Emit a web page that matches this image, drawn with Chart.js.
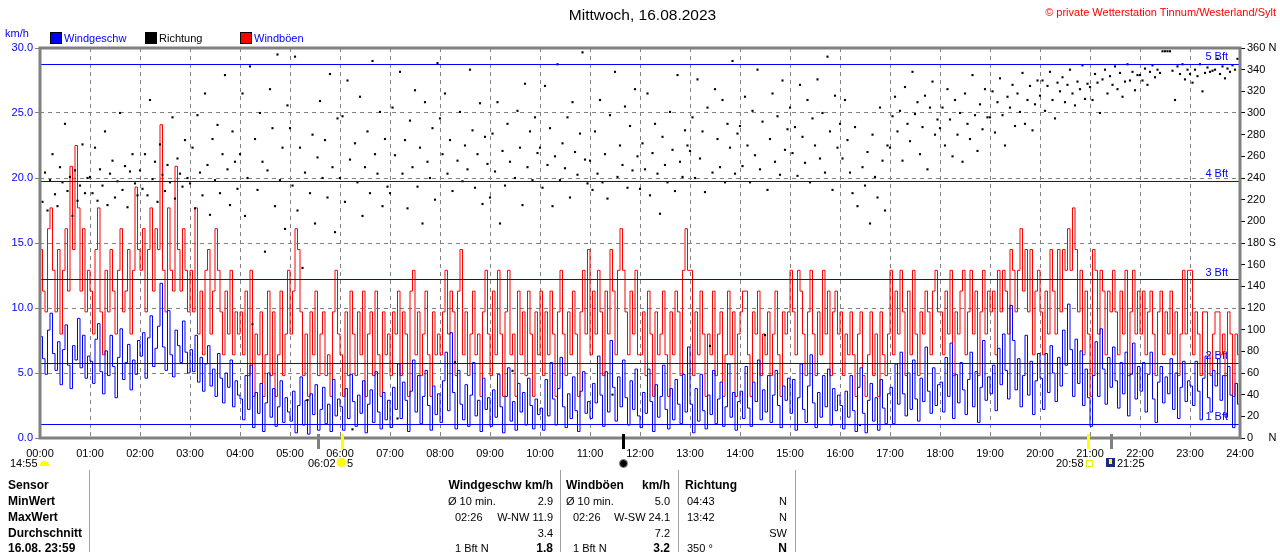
<!DOCTYPE html>
<html>
<head>
<meta charset="utf-8">
<title>Wind 16.08.2023</title>
<script src="https://cdn.jsdelivr.net/npm/chart.js@4.4.0/dist/chart.umd.min.js"></script>
<style>
	body { margin: 0; background: #fff; font-family: 'Liberation Sans', Arial, sans-serif; }
	#wrap { position: relative; width: 1280px; height: 552px; overflow: hidden; }
	#wind-chart { position: absolute; left: 0; top: 0; }
	.t { position: absolute; font-size: 11px; line-height: 14px; white-space: nowrap; }
	.b { font-weight: bold; font-size: 12px; }
	.sq { position: absolute; width: 10px; height: 10px; border: 1px solid #000; }
	.vl { position: absolute; width: 1px; top: 470px; height: 82px; background: #a0a0a0; }
</style>
</head>
<body>
<div id="wrap">
	<canvas id="wind-chart" width="1280" height="552"></canvas>

	<!-- header -->
	<div class="t" style="left:0;width:1285px;text-align:center;top:6px;font-size:15.5px;line-height:18px;">Mittwoch, 16.08.2023</div>
	<div class="t" style="right:4px;top:5px;color:#f00;">© private Wetterstation Tinnum/Westerland/Sylt</div>
	<div class="t" style="left:5px;top:26px;color:#00f;">km/h</div>
	<div class="sq" style="left:50px;top:32px;background:#00f;"></div>
	<div class="t" style="left:64px;top:31px;color:#00f;">Windgeschw</div>
	<div class="sq" style="left:145px;top:32px;background:#000;"></div>
	<div class="t" style="left:159px;top:31px;">Richtung</div>
	<div class="sq" style="left:240px;top:32px;background:#f00;"></div>
	<div class="t" style="left:254px;top:31px;color:#00f;">Windböen</div>

	<!-- sun / moon row -->
	<div class="t" style="left:10px;top:456px;">14:55</div>
	<div style="position:absolute;left:40px;top:461px;width:9px;height:5px;background:#ff0;border-radius:5px 5px 0 0;"></div>
	<div class="t" style="left:308px;top:456px;">06:02</div>
	<div style="position:absolute;left:338px;top:459px;width:7px;height:7px;background:#ff0;border-radius:50%;box-shadow:0 0 2px 1px #ee0;"></div>
	<div class="t" style="left:347px;top:456px;">5</div>
	<div style="position:absolute;left:619px;top:459px;width:7px;height:7px;background:#000;border:1px solid #888;border-radius:50%;"></div>
	<div class="t" style="left:1056px;top:456px;">20:58</div>
	<div style="position:absolute;left:1086px;top:460px;width:5px;height:5px;border:1px solid #ee0;"></div>
	<div style="position:absolute;left:1106px;top:458px;width:9px;height:9px;background:#1a2a80;"></div>
	<div style="position:absolute;left:1109px;top:459px;width:3px;height:5px;background:#ff0;"></div>
	<div class="t" style="left:1117px;top:456px;">21:25</div>

	<!-- table -->
	<div class="vl" style="left:89px;"></div>
	<div class="vl" style="left:560px;"></div>
	<div class="vl" style="left:678px;"></div>
	<div class="vl" style="left:795px;"></div>

	<div class="t b" style="left:8px;top:478px;">Sensor</div>
	<div class="t b" style="left:8px;top:494px;">MinWert</div>
	<div class="t b" style="left:8px;top:510px;">MaxWert</div>
	<div class="t b" style="left:8px;top:526px;">Durchschnitt</div>
	<div class="t b" style="left:8px;top:541px;">16.08. 23:59</div>

	<div class="t b" style="right:727px;top:478px;">Windgeschw km/h</div>
	<div class="t" style="left:448px;top:494px;">Ø 10 min.</div>
	<div class="t" style="right:727px;top:494px;">2.9</div>
	<div class="t" style="left:455px;top:510px;">02:26</div>
	<div class="t" style="right:727px;top:510px;">W-NW 11.9</div>
	<div class="t" style="right:727px;top:526px;">3.4</div>
	<div class="t" style="left:455px;top:541px;">1 Bft N</div>
	<div class="t b" style="right:727px;top:541px;">1.8</div>

	<div class="t b" style="left:566px;top:478px;">Windböen</div>
	<div class="t b" style="right:610px;top:478px;">km/h</div>
	<div class="t" style="left:566px;top:494px;">Ø 10 min.</div>
	<div class="t" style="right:610px;top:494px;">5.0</div>
	<div class="t" style="left:573px;top:510px;">02:26</div>
	<div class="t" style="right:610px;top:510px;">W-SW 24.1</div>
	<div class="t" style="right:610px;top:526px;">7.2</div>
	<div class="t" style="left:573px;top:541px;">1 Bft N</div>
	<div class="t b" style="right:610px;top:541px;">3.2</div>

	<div class="t b" style="left:685px;top:478px;">Richtung</div>
	<div class="t" style="left:687px;top:494px;">04:43</div>
	<div class="t" style="right:493px;top:494px;">N</div>
	<div class="t" style="left:687px;top:510px;">13:42</div>
	<div class="t" style="right:493px;top:510px;">N</div>
	<div class="t" style="right:493px;top:526px;">SW</div>
	<div class="t" style="left:687px;top:541px;">350 °</div>
	<div class="t b" style="right:493px;top:541px;">N</div>
</div>

<script>
// Samples every 3 minutes, 00:00 .. 24:00 (one row per hour)
const sampleMinutes = 3;

// Windgeschwindigkeit km/h
const windSpeed = [
	7.8, 6.1, 4.9, 8.3, 9.6, 6.5, 5.2, 7.4, 4.1, 6.8, 8.7, 5.6, 3.8, 7.1, 6.0, 9.2, 5.4, 7.9, 4.6, 6.3,
	5.9, 4.2, 7.6, 8.8, 5.1, 3.4, 6.7, 4.8, 7.9, 5.5, 3.1, 6.2, 8.4, 4.5, 5.8, 7.2, 3.7, 6.0, 4.9, 7.5,
	6.3, 8.1, 4.6, 7.7, 9.4, 5.5, 6.9, 8.6, 11.9, 7.0, 5.2, 9.8, 6.4, 4.7, 8.3, 7.1, 5.8, 9.0, 6.6, 5.0,
	6.8, 5.1, 7.9, 4.3, 6.2, 3.6, 5.7, 7.1, 4.0, 5.3, 3.2, 6.5, 4.6, 2.7, 5.0, 3.9, 6.0, 2.4, 4.4, 3.3,
	3.0, 1.4, 4.8, 2.2, 5.6, 0.8, 3.5, 1.9, 4.2, 0.5, 2.7, 5.0, 1.6, 3.8, 0.9, 2.4, 4.4, 1.2, 3.1, 2.0,
	1.3, 3.6, 0.4, 2.5, 4.7, 1.0, 2.9, 0.3, 3.4, 1.8, 4.1, 0.6, 2.2, 3.9, 1.1, 2.6, 0.5, 4.5, 1.7, 3.0,
	2.4, 0.6, 3.8, 1.5, 4.9, 2.8, 0.9, 3.3, 1.9, 4.4, 0.4, 2.6, 3.7, 1.2, 5.1, 2.0, 0.7, 3.5, 1.4, 2.9,
	0.8, 3.9, 2.2, 5.7, 1.5, 4.3, 2.9, 0.5, 3.6, 6.0, 2.0, 4.8, 1.1, 3.2, 5.2, 2.5, 0.6, 4.0, 1.8, 3.4,
	1.2, 4.4, 6.6, 2.1, 8.1, 3.5, 0.7, 5.2, 2.6, 1.4, 4.1, 0.9, 3.3, 5.8, 1.7, 2.9, 0.5, 4.6, 2.2, 3.1,
	0.9, 3.7, 1.6, 4.9, 2.4, 0.4, 3.2, 5.4, 1.3, 2.8, 0.6, 4.2, 2.0, 3.5, 1.0, 4.6, 2.5, 0.7, 3.0, 1.8,
	2.3, 0.6, 4.5, 1.7, 5.8, 3.0, 1.0, 3.8, 6.2, 2.4, 0.8, 3.4, 1.5, 4.7, 2.1, 0.5, 3.6, 5.1, 1.9, 2.8,
	1.5, 4.2, 2.7, 6.3, 3.3, 0.9, 5.1, 2.0, 7.5, 3.9, 1.3, 4.7, 2.4, 6.0, 3.1, 1.0, 4.4, 2.2, 5.3, 1.7,
	0.8, 3.5, 1.9, 5.3, 2.8, 0.5, 4.1, 1.6, 3.2, 5.6, 2.2, 0.7, 3.8, 1.4, 4.5, 2.6, 1.1, 4.9, 2.0, 7.0,
	2.6, 0.4, 3.8, 1.3, 4.9, 2.1, 0.7, 3.3, 1.8, 5.2, 1.1, 3.0, 4.3, 0.9, 2.4, 5.7, 1.6, 3.5, 0.6, 2.8,
	3.6, 1.5, 5.5, 2.3, 0.9, 4.3, 2.8, 6.0, 1.4, 3.7, 2.0, 4.8, 1.2, 3.3, 5.2, 2.5, 0.8, 4.0, 2.9, 4.6,
	1.9, 4.5, 0.6, 3.1, 5.7, 2.2, 1.2, 4.0, 6.4, 2.7, 0.8, 3.5, 1.6, 4.8, 2.4, 5.3, 1.0, 3.8, 2.1, 3.3,
	2.5, 0.7, 3.6, 1.6, 4.8, 2.1, 0.5, 3.9, 5.4, 1.9, 0.4, 2.9, 4.2, 1.3, 3.1, 0.6, 4.5, 2.3, 1.1, 3.4,
	3.9, 1.1, 5.7, 2.6, 6.6, 3.4, 1.7, 5.0, 2.2, 6.0, 3.0, 1.3, 4.6, 2.8, 7.0, 3.6, 1.9, 5.4, 2.5, 4.1,
	4.3, 2.0, 6.2, 3.2, 7.3, 1.5, 4.9, 2.7, 5.8, 3.7, 1.8, 4.5, 6.6, 2.4, 5.1, 1.2, 3.9, 7.5, 2.9, 4.7,
	3.4, 5.6, 2.1, 6.9, 4.1, 8.0, 5.2, 3.0, 10.2, 7.5, 3.7, 6.1, 2.4, 4.8, 7.9, 3.3, 5.9, 1.8, 4.4, 6.5,
	4.6, 2.2, 6.5, 3.5, 7.1, 5.0, 2.8, 6.2, 4.0, 8.3, 5.6, 10.3, 6.8, 3.2, 7.6, 4.2, 6.7, 2.5, 5.3, 3.1,
	0.9, 4.8, 7.4, 3.2, 8.4, 5.3, 2.6, 6.2, 3.9, 7.0, 4.4, 2.3, 5.8, 3.4, 6.6, 1.7, 4.9, 7.3, 3.0, 5.5,
	3.6, 5.8, 2.0, 4.9, 6.6, 3.0, 1.2, 4.3, 5.5, 2.7, 4.7, 3.4, 6.1, 2.2, 5.0, 1.5, 3.9, 5.9, 2.8, 4.4,
	4.0, 2.5, 5.9, 3.6, 1.4, 4.6, 6.3, 3.1, 2.0, 5.2, 4.0, 6.1, 2.9, 4.8, 1.6, 5.5, 3.3, 0.8, 4.2, 2.6,
	1.8,
];

// Windböen km/h
const windGusts = [
	14.5, 11.3, 9.7, 16.1, 17.7, 12.9, 9.7, 14.5, 8.0, 12.9, 16.1, 11.3, 20.9, 14.5, 22.5, 17.7, 11.3, 16.1, 9.7, 12.9,
	11.3, 8.0, 14.5, 17.7, 9.7, 6.4, 12.9, 9.7, 14.5, 11.3, 8.0, 12.9, 16.1, 9.7, 11.3, 14.5, 8.0, 12.9, 19.3, 14.5,
	12.9, 16.1, 9.7, 14.5, 17.7, 11.3, 16.1, 14.5, 24.1, 12.9, 9.7, 17.7, 12.9, 11.3, 20.9, 14.5, 11.3, 16.1, 12.9, 9.7,
	12.9, 9.7, 17.7, 8.0, 11.3, 6.4, 12.9, 14.5, 8.0, 11.3, 16.1, 12.9, 9.7, 6.4, 11.3, 8.0, 12.9, 6.4, 9.7, 8.0,
	9.7, 6.4, 11.3, 4.8, 12.9, 3.2, 8.0, 6.4, 9.7, 3.2, 6.4, 11.3, 4.8, 9.7, 3.2, 6.4, 11.3, 4.8, 8.0, 12.9,
	8.0, 11.3, 16.1, 14.5, 9.7, 4.8, 8.0, 3.2, 9.7, 6.4, 11.3, 4.8, 8.0, 9.7, 4.8, 6.4, 3.2, 9.7, 12.9, 8.0,
	6.4, 3.2, 9.7, 4.8, 11.3, 8.0, 4.8, 9.7, 6.4, 11.3, 3.2, 8.0, 9.7, 4.8, 11.3, 6.4, 3.2, 9.7, 6.4, 8.0,
	4.8, 9.7, 8.0, 11.3, 4.8, 9.7, 8.0, 3.2, 11.3, 12.9, 6.4, 9.7, 4.8, 8.0, 11.3, 6.4, 3.2, 9.7, 6.4, 8.0,
	6.4, 9.7, 12.9, 8.0, 11.3, 9.7, 4.8, 11.3, 14.5, 6.4, 9.7, 4.8, 8.0, 11.3, 6.4, 8.0, 3.2, 9.7, 12.9, 8.0,
	4.8, 11.3, 6.4, 12.9, 8.0, 3.2, 9.7, 12.9, 6.4, 8.0, 3.2, 11.3, 6.4, 9.7, 4.8, 11.3, 8.0, 3.2, 9.7, 6.4,
	11.3, 4.8, 9.7, 6.4, 11.3, 8.0, 3.2, 9.7, 12.9, 8.0, 4.8, 9.7, 6.4, 11.3, 8.0, 3.2, 9.7, 12.9, 8.0, 14.5,
	6.4, 11.3, 8.0, 12.9, 9.7, 4.8, 11.3, 8.0, 14.5, 11.3, 6.4, 12.9, 16.1, 12.9, 9.7, 6.4, 11.3, 8.0, 12.9, 6.4,
	6.4, 9.7, 4.8, 11.3, 8.0, 3.2, 9.7, 6.4, 8.0, 11.3, 6.4, 3.2, 9.7, 6.4, 11.3, 9.7, 4.8, 12.9, 16.1, 12.9,
	12.9, 4.8, 9.7, 6.4, 11.3, 8.0, 3.2, 8.0, 6.4, 11.3, 4.8, 8.0, 9.7, 3.2, 6.4, 11.3, 6.4, 9.7, 3.2, 8.0,
	9.7, 11.3, 11.3, 6.4, 3.2, 9.7, 8.0, 11.3, 4.8, 8.0, 6.4, 9.7, 4.8, 8.0, 11.3, 6.4, 3.2, 9.7, 8.0, 9.7,
	12.9, 9.7, 6.4, 12.9, 11.3, 8.0, 4.8, 9.7, 12.9, 8.0, 4.8, 9.7, 6.4, 12.9, 8.0, 11.3, 4.8, 9.7, 11.3, 8.0,
	9.7, 4.8, 8.0, 6.4, 9.7, 6.4, 3.2, 8.0, 9.7, 4.8, 3.2, 6.4, 9.7, 4.8, 8.0, 3.2, 9.7, 6.4, 4.8, 8.0,
	12.9, 6.4, 11.3, 8.0, 12.9, 9.7, 4.8, 11.3, 6.4, 12.9, 8.0, 4.8, 9.7, 8.0, 11.3, 9.7, 6.4, 11.3, 12.9, 9.7,
	9.7, 6.4, 11.3, 8.0, 12.9, 4.8, 9.7, 8.0, 11.3, 12.9, 6.4, 9.7, 12.9, 8.0, 11.3, 4.8, 9.7, 12.9, 8.0, 11.3,
	9.7, 11.3, 6.4, 12.9, 9.7, 12.9, 11.3, 8.0, 14.5, 12.9, 9.7, 12.9, 16.1, 11.3, 14.5, 9.7, 14.5, 6.4, 11.3, 12.9,
	9.7, 6.4, 11.3, 8.0, 14.5, 11.3, 8.0, 14.5, 9.7, 14.5, 12.9, 16.1, 12.9, 17.7, 14.5, 9.7, 12.9, 6.4, 11.3, 8.0,
	3.2, 14.5, 12.9, 8.0, 12.9, 11.3, 6.4, 11.3, 9.7, 12.9, 9.7, 6.4, 11.3, 8.0, 12.9, 4.8, 9.7, 12.9, 8.0, 11.3,
	8.0, 11.3, 6.4, 9.7, 11.3, 8.0, 4.8, 9.7, 11.3, 6.4, 9.7, 8.0, 11.3, 6.4, 9.7, 4.8, 8.0, 12.9, 8.0, 12.9,
	12.9, 6.4, 9.7, 8.0, 4.8, 9.7, 9.7, 6.4, 4.8, 8.0, 9.7, 9.7, 6.4, 8.0, 4.8, 9.7, 8.0, 3.2, 8.0, 6.4,
	3.2,
];

// Windrichtung Grad
const windDir = [
	232, 218, 245, 210, 238, 262, 225, 214, 250, 236, 290, 228, 241, 205, 247, 219, 233, 271, 226, 240,
	241, 226, 268, 219, 248, 233, 283, 215, 244, 256, 222, 237, 300, 229, 251, 213, 246, 262, 235, 224,
	247, 230, 262, 224, 312, 239, 255, 218, 271, 243, 228, 252, 236, 296, 221, 258, 244, 232, 275, 240,
	235, 268, 212, 298, 245, 224, 318, 252, 206, 276, 238, 289, 226, 262, 335, 248, 215, 283, 255, 230,
	262, 318, 205, 240, 343, 105, 276, 229, 300, 255, 172, 247, 322, 286, 214, 354, 238, 268, 193, 307,
	286, 233, 352, 210, 268, 157, 245, 35, 226, 280, 198, 259, 311, 240, 275, 222, 336, 250, 190, 295,
	240, 297, 218, 330, 257, 8, 272, 236, 315, 205, 250, 283, 226, 348, 262, 244, 301, 214, 276, 232,
	226, 305, 261, 18, 338, 244, 275, 212, 293, 250, 321, 232, 268, 198, 310, 255, 240, 286, 220, 346,
	295, 262, 318, 244, 275, 228, 70, 256, 301, 237, 270, 248, 340, 284, 231, 262, 309, 216, 278, 253,
	222, 281, 246, 310, 198, 265, 233, 290, 255, 62, 240, 302, 268, 215, 327, 250, 283, 238, 296, 263,
	268, 231, 325, 252, 286, 214, 260, 345, 238, 272, 249, 296, 222, 310, 264, 243, 281, 356, 257, 235,
	256, 229, 283, 244, 312, 236, 262, 221, 298, 40, 338, 241, 270, 252, 306, 231, 288, 247, 322, 260,
	230, 272, 248, 318, 224, 263, 290, 244, 207, 278, 252, 236, 301, 266, 228, 335, 255, 241, 284, 270,
	265, 296, 240, 331, 258, 283, 227, 305, 85, 245, 322, 276, 250, 312, 236, 290, 268, 348, 244, 281,
	288, 251, 315, 270, 236, 302, 261, 340, 248, 292, 95, 229, 276, 318, 255, 297, 243, 330, 266, 285,
	305, 263, 287, 242, 326, 278, 254, 312, 236, 295, 270, 331, 258, 300, 245, 352, 283, 229, 316, 268,
	290, 258, 312, 275, 245, 226, 287, 214, 12, 250, 233, 264, 198, 280, 241, 222, 305, 256, 210, 270,
	268, 297, 315, 283, 302, 256, 324, 290, 274, 338, 299, 310, 262, 287, 316, 248, 305, 329, 280, 294,
	286, 305, 270, 322, 294, 260, 312, 280, 300, 255, 318, 290, 276, 335, 298, 265, 308, 285, 322, 296,
	296, 320, 282, 310, 332, 298, 270, 315, 305, 326, 288, 318, 301, 337, 290, 312, 325, 284, 308, 330,
	316, 330, 302, 325, 338, 312, 295, 328, 320, 333, 310, 326, 340, 318, 307, 329, 322, 344, 313, 327,
	324, 312, 336, 328, 300, 331, 340, 318, 334, 326, 343, 322, 337, 315, 329, 345, 330, 338, 321, 335,
	335, 330, 341, 326, 338, 344, 333, 340, 337, 357, 357, 357, 357, 339, 312, 343, 336, 345, 331, 340,
	336, 328, 340, 334, 345, 320, 337, 342, 338, 339, 340, 350, 336, 343, 332, 341, 338, 344, 340, 350,
	350,
];

// Beaufort limits km/h
const bftLevels = [1.1, 5.8, 12.2, 19.8, 28.8];
const bftNames = ['1 Bft', '2 Bft', '3 Bft', '4 Bft', '5 Bft'];

// marks under the time axis (dawn, sunrise, moon, sunset, moonrise)
const dayMarks = [
	{ time: '05:34', color: '#808080' },
	{ time: '06:02', color: '#ffff00' },
	{ time: '11:40', color: '#000000' },
	{ time: '20:58', color: '#ffff00' },
	{ time: '21:25', color: '#808080' },
];

const dirLabels = { 0: '0     N', 180: '180 S', 360: '360 N' };

const FONT = '"Liberation Sans", Arial, sans-serif';

function toPoints(values) {
	return values.map(function (v, i) {
		return { x: i * sampleMinutes, y: v };
	});
}

function toMinutes(hhmm) {
	const p = hhmm.split(':');
	return Number(p[0]) * 60 + Number(p[1]);
}

const overlay = {
	id: 'overlay',
	beforeDatasetsDraw(chart) {
		const { ctx, chartArea, scales } = chart;
		ctx.save();
		ctx.font = '11px ' + FONT;
		ctx.fillStyle = '#0000ff';
		ctx.textAlign = 'right';
		ctx.textBaseline = 'bottom';
		bftLevels.forEach(function (v, i) {
			ctx.fillText(bftNames[i], chartArea.right - 12, scales.y.getPixelForValue(v) - 1);
		});
		ctx.restore();
	},
	afterDatasetsDraw(chart) {
		const { ctx, chartArea, scales } = chart;
		ctx.save();
		ctx.strokeStyle = '#0000ff';
		ctx.lineWidth = 1;
		bftLevels.forEach(function (v) {
			const y = Math.round(scales.y.getPixelForValue(v)) + 0.5;
			ctx.beginPath();
			ctx.moveTo(chartArea.left, y);
			ctx.lineTo(chartArea.right, y);
			ctx.stroke();
		});
		ctx.restore();
	},
	afterDraw(chart) {
		const { ctx, chartArea, scales } = chart;
		ctx.save();
		// frame
		ctx.strokeStyle = '#808080';
		ctx.lineWidth = 3;
		ctx.strokeRect(chartArea.left, chartArea.top, chartArea.right - chartArea.left, chartArea.bottom - chartArea.top);
		// day marks
		dayMarks.forEach(function (m) {
			const x = scales.x.getPixelForValue(toMinutes(m.time));
			ctx.fillStyle = m.color;
			ctx.fillRect(Math.round(x) - 1, chartArea.bottom - 4, 3, 15);
		});
		ctx.restore();
	},
};

const ctx = document.getElementById('wind-chart');

new Chart(ctx, {
	type: 'line',
	data: {
		datasets: [
			{
				label: 'Richtung',
				data: toPoints(windDir),
				yAxisID: 'y2',
				showLine: false,
				pointStyle: 'rect',
				pointRadius: 1.5,
				pointBorderWidth: 0,
				pointBackgroundColor: '#000000',
			},
			{
				label: 'Windgeschw',
				data: toPoints(windSpeed),
				yAxisID: 'y',
				borderColor: '#0000ff',
				borderWidth: 1,
				pointRadius: 0,
				stepped: true,
			},
			{
				label: 'Windböen',
				data: toPoints(windGusts),
				yAxisID: 'y',
				borderColor: '#ff0000',
				borderWidth: 1,
				pointRadius: 0,
				stepped: true,
			},
		],
	},
	options: {
		responsive: false,
		animation: false,
		devicePixelRatio: 1,
		events: [],
		layout: { padding: { top: 48, left: 0, right: 0, bottom: 0 } },
		plugins: {
			legend: { display: false },
			tooltip: { enabled: false },
		},
		scales: {
			x: {
				type: 'linear',
				min: 0,
				max: 1440,
				afterFit: function (s) { s.height = 114; },
				ticks: {
					stepSize: 60,
					autoSkip: false,
					maxRotation: 0,
					padding: 9,
					color: '#000000',
					font: { family: FONT, size: 11 },
					callback: function (v) {
						return String(v / 60).padStart(2, '0') + ':00';
					},
				},
				grid: { color: '#808080', lineWidth: 1, drawTicks: false, borderDash: [4, 4] },
				border: { display: false, dash: [4, 4] },
			},
			y: {
				position: 'left',
				min: 0,
				max: 30,
				afterFit: function (s) { s.width = 40; },
				ticks: {
					stepSize: 5,
					padding: 2,
					color: '#0000ff',
					font: { family: FONT, size: 11 },
					callback: function (v) { return v.toFixed(1); },
				},
				grid: { color: '#808080', lineWidth: 1, tickLength: 5, tickColor: '#808080', tickBorderDash: [1, 0], borderDash: [4, 4] },
				border: { display: false, dash: [4, 4] },
			},
			y2: {
				position: 'right',
				min: 0,
				max: 360,
				afterFit: function (s) { s.width = 40; },
				ticks: {
					stepSize: 20,
					padding: 2,
					color: '#000000',
					font: { family: FONT, size: 11 },
					callback: function (v) { return dirLabels[v] || String(v); },
				},
				grid: { drawOnChartArea: false, tickLength: 5, tickColor: '#000000' },
				border: { display: false },
			},
		},
	},
	plugins: [overlay],
});
</script>
</body>
</html>
